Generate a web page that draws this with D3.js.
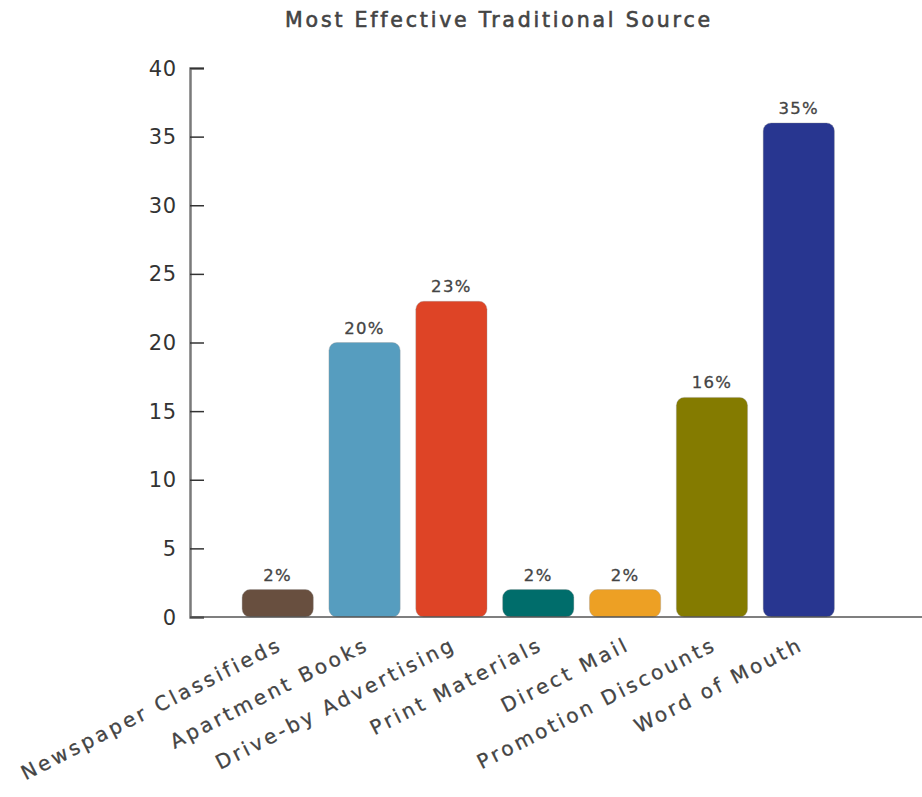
<!DOCTYPE html>
<html>
<head>
<meta charset="utf-8">
<script src="https://cdn.jsdelivr.net/npm/d3@7"></script>
<style>
  body { margin: 0; background: #fff; }
  svg { display: block; font-family: "DejaVu Sans", "Noto Sans", sans-serif; }
</style>
</head>
<body>
<div id="chart"></div>
<script>
// data
const categories = ['Newspaper Classifieds', 'Apartment Books', 'Drive-by Advertising',
  'Print Materials', 'Direct Mail', 'Promotion Discounts', 'Word of Mouth'];
const values = [2, 20, 23, 2, 2, 16, 36];
const valueLabels = ['2%', '20%', '23%', '2%', '2%', '16%', '35%'];
const colors = ['#684f3f', '#569dbf', '#de4426', '#006d6b', '#eda024', '#847b00', '#283690'];
const yTicks = [0, 5, 10, 15, 20, 25, 30, 35, 40];

const width = 922, height = 797;

const svg = d3.select('#chart').append('svg')
  .attr('width', width)
  .attr('height', height);

// scales
const x = d3.scaleBand()
  .domain(categories)
  .range([190, 886.5])
  .paddingInner(0.18)
  .paddingOuter(0.6);

const y = d3.scaleLinear()
  .domain([0, 40])
  .range([617, 68]);

// title
svg.append('text')
  .attr('x', 499)
  .attr('y', 27)
  .attr('text-anchor', 'middle')
  .attr('font-size', 20.5)
  .attr('letter-spacing', 2.8)
  .attr('fill', '#444')
  .attr('stroke', '#444')
  .attr('stroke-width', 0.6)
  .text('Most Effective Traditional Source');

// y axis, ticks point into the plot
const yAxis = svg.append('g')
  .attr('transform', 'translate(190,0)')
  .call(d3.axisRight(y).tickValues(yTicks).tickSize(14).tickFormat(''));
yAxis.select('.domain').attr('stroke', '#7a7a7a').attr('stroke-width', 2.5);
yAxis.selectAll('.tick line').attr('stroke', '#333').attr('stroke-width', 1.5);

svg.append('g').selectAll('text')
  .data(yTicks)
  .join('text')
  .attr('x', 177)
  .attr('y', d => y(d))
  .attr('dy', '0.36em')
  .attr('text-anchor', 'end')
  .attr('font-size', 21)
  .attr('letter-spacing', 0.8)
  .attr('fill', '#333')
  .text(d => d);

// bars
svg.append('g').selectAll('rect')
  .data(values)
  .join('rect')
  .attr('x', (d, i) => x(categories[i]))
  .attr('y', d => y(d))
  .attr('width', x.bandwidth())
  .attr('height', d => y(0) - y(d))
  .attr('rx', 8)
  .attr('fill', (d, i) => colors[i])
  .attr('stroke', '#999')
  .attr('stroke-opacity', 0.35)
  .attr('stroke-width', 1);

// value labels
svg.append('g').selectAll('text')
  .data(values)
  .join('text')
  .attr('x', (d, i) => x(categories[i]) + x.bandwidth() / 2)
  .attr('y', d => y(d) - 9)
  .attr('text-anchor', 'middle')
  .attr('font-size', 16.5)
  .attr('letter-spacing', 1.3)
  .attr('fill', '#444')
  .attr('stroke', '#444')
  .attr('stroke-width', 0.3)
  .text((d, i) => valueLabels[i]);

// x axis line
svg.append('line')
  .attr('x1', 190).attr('x2', width)
  .attr('y1', y(0)).attr('y2', y(0))
  .attr('stroke', '#555')
  .attr('stroke-width', 1.5);

// rotated category labels
svg.append('g').selectAll('text')
  .data(categories)
  .join('text')
  .attr('transform', d => `translate(${x(d) + x.bandwidth() / 2 + 6},${y(0) + 32}) rotate(-27)`)
  .attr('text-anchor', 'end')
  .attr('font-size', 20)
  .attr('fill', '#444')
  .attr('stroke', '#444')
  .attr('stroke-width', 0.3)
  .attr('letter-spacing', 3.1)
  .text(d => d);
</script>
</body>
</html>
